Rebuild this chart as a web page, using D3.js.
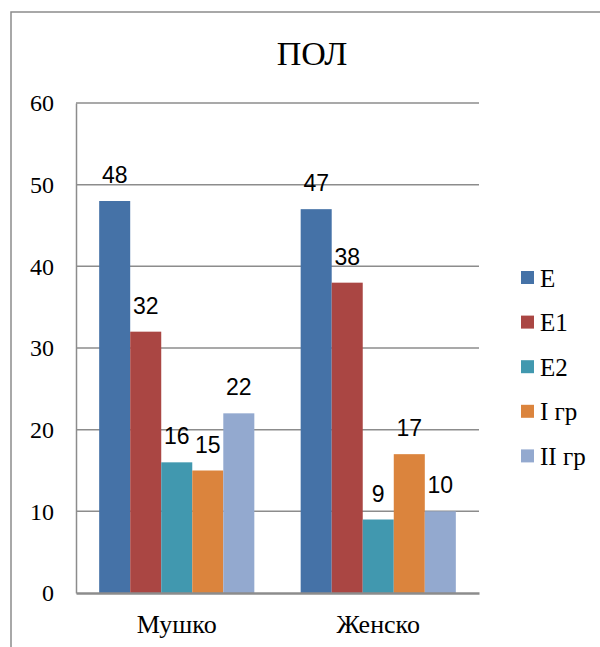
<!DOCTYPE html>
<html>
<head>
<meta charset="utf-8">
<script src="https://cdn.jsdelivr.net/npm/d3@7"></script>
<style>
  html, body { margin: 0; padding: 0; background: #fff; }
  svg { display: block; }
  .serif { font-family: "Liberation Serif", "Times New Roman", serif; }
  .sans { font-family: "Liberation Sans", Arial, sans-serif; }
</style>
</head>
<body>
<svg id="chart" width="600" height="647"></svg>
<script>
// Categories, series and values
const categories = ["Мушко", "Женско"];
const seriesNames = ["E", "E1", "E2", "I гр", "II гр"];
const valuesMushko = [48, 32, 16, 15, 22];
const valuesZhensko = [47, 38, 9, 17, 10];
const seriesColors = ["#4572A7", "#AA4643", "#4198AF", "#DB843D", "#93A9CF"];
const yTicks = [0, 10, 20, 30, 40, 50, 60];
const title = "ПОЛ";

const values = [valuesMushko, valuesZhensko];
const rows = categories.map((c, i) => ({
  category: c,
  items: seriesNames.map((s, j) => ({ series: s, value: values[i][j], color: seriesColors[j] }))
}));

const svg = d3.select("#chart");
const plot = { left: 76, right: 479, top: 103, bottom: 593 };

// outer chart frame (runs past the right and bottom edges)
svg.append("path")
  .attr("d", "M11,660 L11,12 L610,12")
  .attr("fill", "none")
  .attr("stroke", "#8c8c8c")
  .attr("stroke-width", 1.5);

svg.append("text")
  .attr("class", "serif")
  .attr("x", 312).attr("y", 65)
  .attr("text-anchor", "middle")
  .style("font-size", "34px")
  .attr("fill", "#000")
  .text(title);

const y = d3.scaleLinear().domain([0, 60]).range([plot.bottom, plot.top]);
const x0 = d3.scaleBand().domain(categories).range([plot.left, plot.right])
  .paddingInner(0.23).paddingOuter(0.115);
const x1 = d3.scaleBand().domain(seriesNames).range([0, x0.bandwidth()]).padding(0);

// horizontal gridlines
svg.append("g")
  .selectAll("line")
  .data(yTicks.filter(t => t > 0))
  .join("line")
  .attr("x1", plot.left).attr("x2", plot.right)
  .attr("y1", d => y(d)).attr("y2", d => y(d))
  .attr("stroke", "#8c8c8c")
  .attr("stroke-width", 1.5);

// y axis
const yAxis = svg.append("g")
  .attr("transform", `translate(${plot.left},0)`)
  .call(d3.axisLeft(y).tickValues(yTicks).tickSize(0).tickPadding(22));
yAxis.attr("font-family", null).attr("font-size", null);
yAxis.select(".domain").attr("stroke", "#8c8c8c").attr("stroke-width", 1.5);
yAxis.selectAll("text")
  .attr("class", "serif")
  .style("font-size", "24px").attr("fill", "#000");

// bars
const groups = svg.append("g")
  .selectAll("g")
  .data(rows)
  .join("g")
  .attr("transform", d => `translate(${x0(d.category)},0)`);

groups.selectAll("rect")
  .data(d => d.items)
  .join("rect")
  .attr("x", d => x1(d.series))
  .attr("width", x1.bandwidth())
  .attr("y", d => y(d.value))
  .attr("height", d => y(0) - y(d.value))
  .attr("fill", d => d.color);

// value labels above each bar
groups.selectAll("text")
  .data(d => d.items)
  .join("text")
  .attr("class", "sans")
  .attr("x", d => x1(d.series) + x1.bandwidth() / 2)
  .attr("y", d => y(d.value) - 18)
  .attr("text-anchor", "middle")
  .style("font-size", "23px")
  .attr("fill", "#000")
  .text(d => d.value);

// x axis
const xAxis = svg.append("g")
  .attr("transform", `translate(0,${plot.bottom})`)
  .call(d3.axisBottom(x0).tickSize(0).tickPadding(22));
xAxis.attr("font-family", null).attr("font-size", null);
xAxis.select(".domain").attr("stroke", "#8c8c8c").attr("stroke-width", 2.5);
xAxis.selectAll("text")
  .attr("class", "serif")
  .style("font-size", "26px").attr("fill", "#000");

// legend
const legend = svg.append("g")
  .selectAll("g")
  .data(seriesNames)
  .join("g")
  .attr("transform", (d, i) => `translate(521,${277.5 + i * 44.6})`);
legend.append("rect")
  .attr("x", 0).attr("y", -6.5)
  .attr("width", 13).attr("height", 13)
  .attr("fill", (d, i) => seriesColors[i]);
legend.append("text")
  .attr("class", "serif")
  .attr("x", 19).attr("y", 9)
  .style("font-size", "25px")
  .attr("fill", "#000")
  .text(d => d);
</script>
</body>
</html>
